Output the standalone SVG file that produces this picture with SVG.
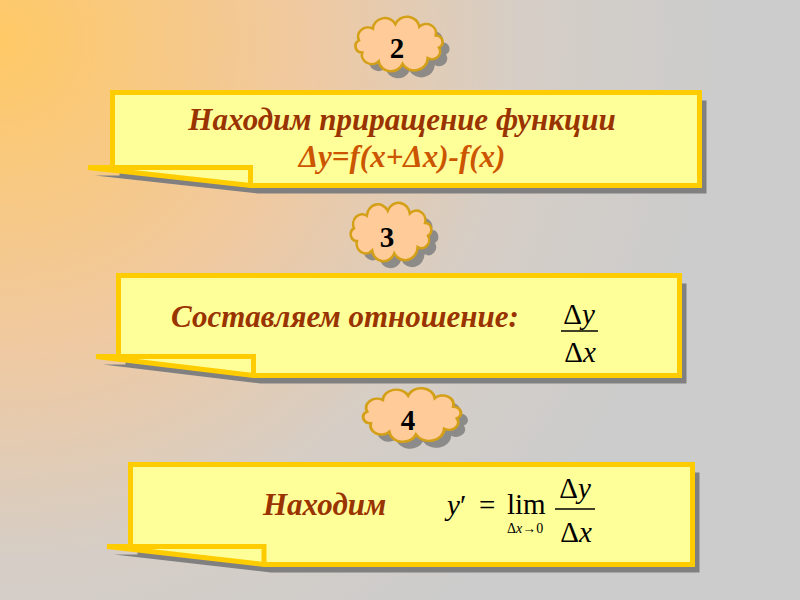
<svg xmlns="http://www.w3.org/2000/svg" xmlns:xlink="http://www.w3.org/1999/xlink" width="800" height="600" viewBox="0 0 800 600">
<defs>
<radialGradient id="bg" gradientUnits="userSpaceOnUse" cx="0" cy="40" r="720">
<stop offset="0" stop-color="#FFC966"/>
<stop offset="0.42" stop-color="#F0C9A0"/>
<stop offset="0.72" stop-color="#D6CEC6"/>
<stop offset="1" stop-color="#CCCCCC"/>
</radialGradient>
<path id="cloud" d="M-37.4,-3.5 A9.2,9.2 0 0 1 -24.4,-15.3 A11.2,11.2 0 0 1 -3.3,-19.9 A11.6,11.6 0 0 1 19,-17.3 A9.2,9.2 0 0 1 34.4,-8.5 A6.4,6.4 0 0 1 37.4,3.5 A7.7,7.7 0 0 1 26.9,14.1 A12.6,12.6 0 0 1 3.3,19.9 A11.6,11.6 0 0 1 -19,17.3 A9.2,9.2 0 0 1 -34.4,8.5 A6.4,6.4 0 0 1 -37.4,-3.5 Z"/>
<style>
.box{fill:#FFFF99;stroke:#FFCC00;stroke-width:5;stroke-linejoin:miter}
.fold{fill:none;stroke:#FFCC00;stroke-width:5}
.shadow{fill:#808080}
.cl{fill:#FFCC99;stroke:#D4A017;stroke-width:2.5;vector-effect:non-scaling-stroke}
.cls{fill:#7F7F7F;opacity:0.85}
.num{font-weight:bold;font-size:29px;fill:#000;text-anchor:middle}
.t{font-weight:bold;font-style:italic;font-size:31px;fill:#993300}
.m{font-size:29px;fill:#000}
.i{font-style:italic}
.fl{stroke:#000;stroke-width:1.3}
</style>
</defs>
<rect width="800" height="600" fill="url(#bg)"/>

<g id="box1" font-family="'Times New Roman', 'Liberation Serif', serif">
<path class="shadow" transform="translate(7,8)" d="M112.5,92.5 H699.5 V185.5 H250.5 L88,167.5 H112.5 Z"/>
<path class="box" d="M112.5,92.5 H699.5 V185.5 H250.5 L88,167.5 H112.5 Z"/>
<path class="fold" d="M88,167.5 H250.5 V185.5"/>
<text class="t" x="402" y="130" text-anchor="middle">Находим приращение функции</text>
<text class="t" x="402" y="167" text-anchor="middle" style="fill:#CC5500">Δy=f(x+Δx)-f(x)</text>
</g>

<g id="box2" font-family="'Times New Roman', 'Liberation Serif', serif">
<path class="shadow" transform="translate(7,8)" d="M118.5,275.5 H679.5 V375.5 H253.5 L96,356.5 H118.5 Z"/>
<path class="box" d="M118.5,275.5 H679.5 V375.5 H253.5 L96,356.5 H118.5 Z"/>
<path class="fold" d="M96,356.5 H253.5 V375.5"/>
<text class="t" x="171" y="327">Составляем отношение:</text>
<text class="m" x="579" y="324" text-anchor="middle">Δ<tspan class="i">y</tspan></text>
<line class="fl" x1="561" y1="331" x2="598" y2="331"/>
<text class="m" x="580" y="362" text-anchor="middle">Δ<tspan class="i">x</tspan></text>
</g>

<g id="box3" font-family="'Times New Roman', 'Liberation Serif', serif">
<path class="shadow" transform="translate(7,8)" d="M130.5,464.5 H692.5 V564.5 H264 L107,546.5 H130.5 Z"/>
<path class="box" d="M130.5,464.5 H692.5 V564.5 H264 L107,546.5 H130.5 Z"/>
<path class="fold" d="M107,546.5 H264 V564.5"/>
<text class="t" x="263" y="515">Находим</text>
<text class="m" x="447" y="515"><tspan class="i">y</tspan>′</text>
<text class="m" x="479" y="515">=</text>
<text class="m" x="507" y="514">lim</text>
<text class="m" x="507" y="533" style="font-size:14px">Δ<tspan class="i">x</tspan>→0</text>
<text class="m" x="575" y="498" text-anchor="middle">Δ<tspan class="i">y</tspan></text>
<line class="fl" x1="555" y1="509" x2="595" y2="509"/>
<text class="m" x="576" y="542" text-anchor="middle">Δ<tspan class="i">x</tspan></text>
</g>

<g id="cloud2" font-family="'Times New Roman', 'Liberation Serif', serif">
<use xlink:href="#cloud" class="cls" transform="translate(406,51) scale(1.07,1.0)"/>
<use xlink:href="#cloud" class="cl" transform="translate(399,44) scale(1.07,1.0)"/>
<text class="num" x="397" y="58">2</text>
</g>

<g id="cloud3" font-family="'Times New Roman', 'Liberation Serif', serif">
<use xlink:href="#cloud" class="cls" transform="translate(398,239) scale(0.99,1.07)"/>
<use xlink:href="#cloud" class="cl" transform="translate(391,232) scale(0.99,1.07)"/>
<text class="num" x="387" y="247">3</text>
</g>

<g id="cloud4" font-family="'Times New Roman', 'Liberation Serif', serif">
<use xlink:href="#cloud" class="cls" transform="translate(419,422) scale(1.2,0.98)"/>
<use xlink:href="#cloud" class="cl" transform="translate(412,415) scale(1.2,0.98)"/>
<text class="num" x="408" y="430">4</text>
</g>
</svg>
